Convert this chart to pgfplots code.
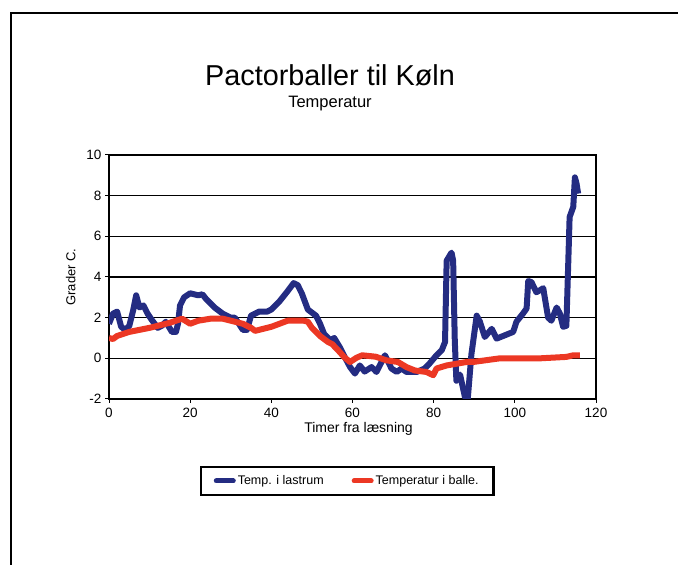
\documentclass[border=0pt]{standalone}
\usepackage{pgfplots}
\pgfplotsset{compat=1.18}
\usepackage{fontspec}
\setmainfont{Liberation Sans}
\definecolor{navy}{RGB}{36,44,130}
\definecolor{redl}{RGB}{236,56,36}
\begin{document}
\begin{tikzpicture}
\path[use as bounding box] (0pt,0pt) rectangle (678pt,565pt);
\draw[line width=2.5pt] (11pt,0pt) -- (11pt,552pt) -- (678pt,552pt);
\node[font=\fontsize{28.8}{30}\selectfont] at (330pt,490pt) {Pactorballer til Køln};
\node[font=\fontsize{16.5}{18}\selectfont] at (330pt,461pt) {Temperatur};
\begin{axis}[
  at={(109pt,166pt)}, anchor=south west,
  scale only axis, width=487pt, height=244pt,
  xmin=0, xmax=120, ymin=-2, ymax=10,
  xtick={0,20,...,120}, ytick={-2,0,...,10},
  axis line style={line width=1.5pt},
  ymajorgrids, grid style={black, line width=1.5pt},
  tick align=outside, major tick length=4pt,
  tick style={black, line width=1pt},
  xtick pos=bottom, ytick pos=left,
  ticklabel style={font=\fontsize{13.5}{14}\selectfont},
  xticklabel style={yshift=-2pt},
  /pgf/number format/assume math mode=true,
  xlabel={Timer fra læsning}, ylabel={Grader C.},
  xlabel style={font=\fontsize{14}{15}\selectfont, yshift=3pt, xshift=6pt},
  ylabel style={font=\fontsize{13}{14}\selectfont, yshift=4pt},
  legend style={at={(0.489,-0.336)}, anchor=center, draw=black, line width=2.2pt,
    font=\fontsize{12.5}{13}\selectfont, legend columns=2,
    /tikz/every even column/.append style={column sep=26pt},
    inner xsep=13pt, inner ysep=7pt},
  legend image code/.code={\draw[#1, line width=5pt, line cap=round] (0pt,0pt) -- (17pt,0pt);},
]
\addplot[navy, line width=6pt, line join=round] coordinates {
(0,1.7)(1,2.2)(2,2.3)(3,1.55)(4,1.4)(5,1.6)(6,2.4)(6.7,3.1)(7.5,2.5)(8.5,2.6)(9.5,2.2)(10.5,1.9)(12,1.5)(13,1.6)(14,1.8)(15.5,1.3)(16.5,1.3)(17,1.7)(17.5,2.6)(18.5,3.0)(20,3.2)(22,3.1)(23,3.15)(24,2.9)(26,2.5)(28,2.2)(30,2.0)(31,2.0)(32,1.7)(33,1.4)(34,1.4)(35,2.1)(37,2.3)(39,2.3)(40,2.4)(42,2.8)(44,3.3)(45.5,3.7)(46.5,3.6)(47.5,3.2)(49,2.4)(51,2.1)(52,1.7)(53,1.2)(54.5,0.9)(55.5,1.0)(57,0.5)(58,0.1)(59.4,-0.43)(60.6,-0.75)(61.8,-0.35)(63,-0.65)(64.7,-0.43)(65.9,-0.67)(68,0.15)(69.6,-0.5)(70.9,-0.67)(72.1,-0.5)(73.3,-0.67)(75.8,-0.67)(77.8,-0.5)(79,-0.25)(80.7,0.15)(82,0.4)(82.8,0.8)(83.2,4.8)(84.4,5.2)(84.8,4.8)(85.2,0.9)(85.6,-1.1)(86.5,-0.8)(87.7,-1.9)(88.4,-2.0)(89.3,0.2)(90.6,2.1)(91.4,1.8)(92.6,1.05)(94.3,1.45)(95.5,0.97)(97.5,1.13)(99.6,1.3)(100.4,1.8)(102,2.2)(102.9,2.45)(103.3,3.8)(104.1,3.75)(105.3,3.25)(106.2,3.35)(107,3.45)(108.2,2.0)(109,1.85)(110.3,2.5)(111.1,2.2)(111.9,1.55)(112.7,1.6)(113.5,6.95)(114.4,7.45)(114.8,8.9)(115.2,8.6)(115.6,8.1)
};
\addlegendentry{Temp. i lastrum}
\addplot[redl, line width=6pt, line join=round] coordinates {
(0,1.0)(1,0.95)(2,1.1)(5,1.3)(10,1.5)(15,1.75)(18,1.95)(20,1.7)(22,1.85)(25,1.95)(28,1.95)(30,1.85)(33,1.7)(35,1.5)(36,1.35)(38,1.45)(40,1.55)(42,1.7)(44,1.85)(46,1.85)(48,1.85)(49,1.8)(50,1.5)(52,1.1)(54,0.8)(55,0.7)(56.9,0.3)(58,0.05)(59.4,-0.18)(61,0.03)(62.4,0.15)(65.7,0.08)(68.4,-0.1)(71.2,-0.18)(73.3,-0.43)(75.4,-0.6)(78.2,-0.67)(79.9,-0.83)(80.7,-0.5)(83.2,-0.35)(88.1,-0.18)(89.7,-0.18)(96.3,0)(106.2,0)(112.7,0.07)(114.4,0.15)(116,0.15)
};
\addlegendentry{Temperatur i balle.}
\end{axis}
\end{tikzpicture}
\end{document}
